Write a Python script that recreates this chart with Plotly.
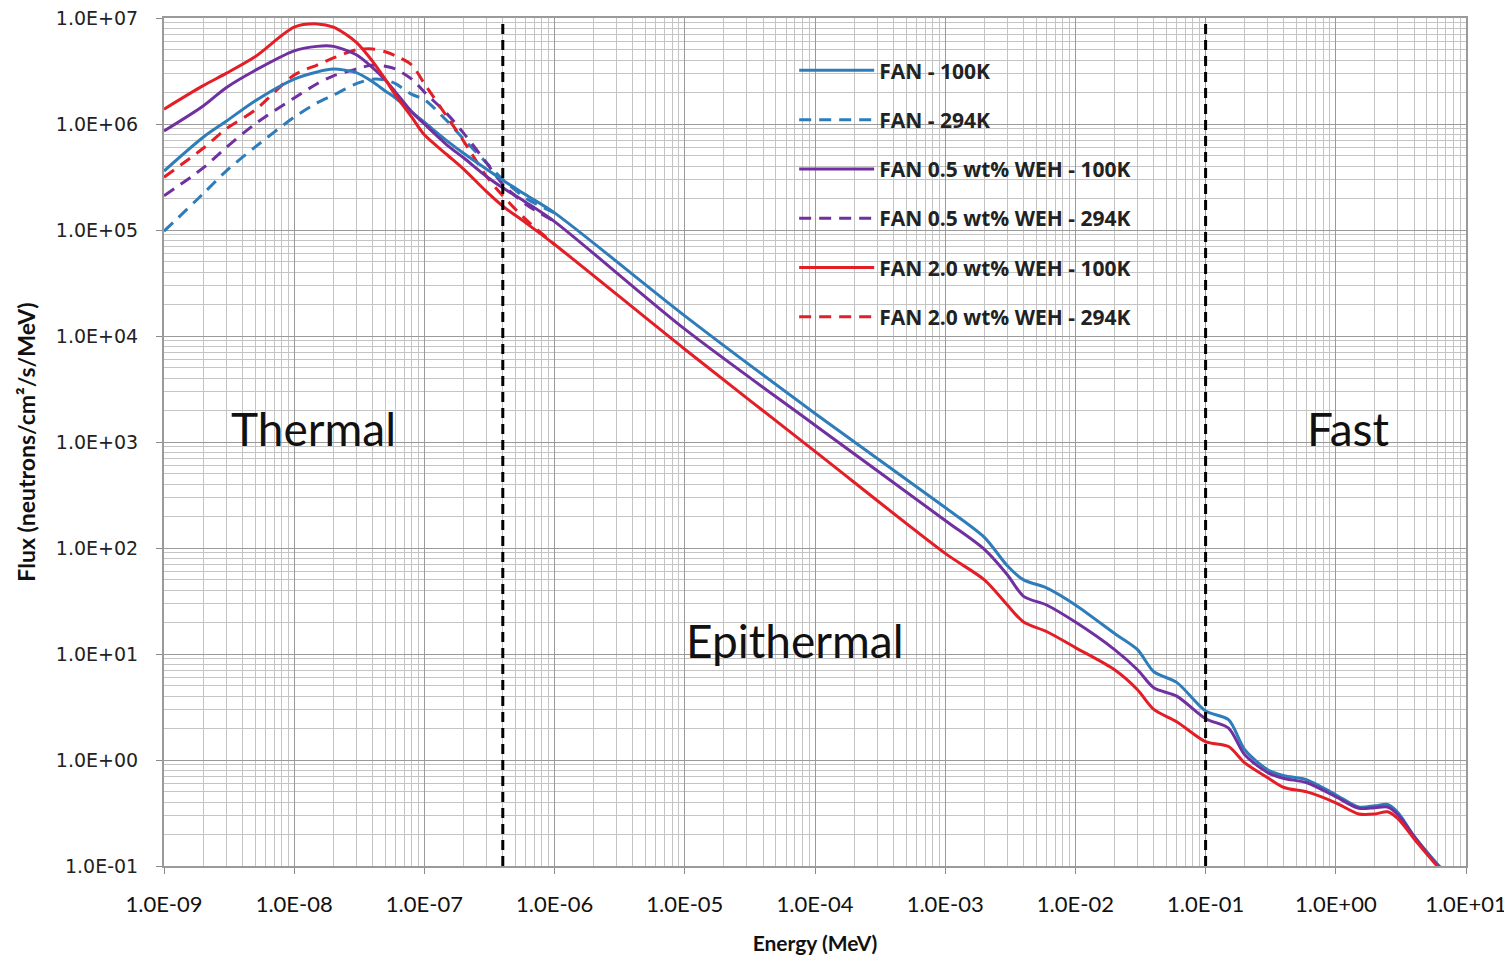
import math
import plotly.graph_objects as go

# ---------------- data ----------------
energy_thermal = [1e-9, 2e-9, 3e-9, 5e-9, 1e-8, 1.5e-8, 2e-8, 3e-8, 4e-8, 5e-8, 6e-8,
                  8e-8, 1e-7, 1.5e-7, 2e-7, 3e-7, 4e-7, 6e-7, 1e-6]
energy_high = [1e-5, 1e-4, 1e-3, 2e-3, 3e-3, 4e-3, 6e-3, 1e-2, 2e-2, 3e-2, 4e-2, 6e-2,
               1e-1, 1.5e-1, 2e-1, 3e-1, 4e-1, 6e-1, 1.0, 1.5, 2.0, 2.5, 3.0, 4.0, 5.0, 6.0, 6.5]

# solid (100K) thermal part
fan_100K_th = [3.6e5, 7.5e5, 1.06e6, 1.65e6, 2.65e6, 3.1e6, 3.3e6, 3.05e6, 2.5e6, 2.05e6, 1.76e6,
               1.3e6, 1.04e6, 6.9e5, 5.3e5, 3.75e5, 2.95e5, 2.15e5, 1.45e5]
fan05_100K_th = [8.6e5, 1.48e6, 2.2e6, 3.2e6, 4.9e6, 5.4e6, 5.4e6, 4.5e6, 3.4e6, 2.6e6, 2.0e6,
                 1.3e6, 1.0e6, 6.3e5, 4.8e5, 3.2e5, 2.5e5, 1.83e5, 1.2e5]
fan20_100K_th = [1.38e6, 2.3e6, 3.0e6, 4.3e6, 8.2e6, 8.8e6, 8.2e6, 5.9e6, 3.9e6, 2.65e6, 1.87e6,
                 1.16e6, 7.9e5, 5.1e5, 3.75e5, 2.3e5, 1.68e5, 1.17e5, 7.3e4]

# solid (100K) epithermal / fast part
fan_100K_hi = [1.55e4, 1.86e3, 241, 126, 68, 50, 42, 29, 15.6, 11, 6.8, 5.4,
               2.9, 2.4, 1.25, 0.81, 0.71, 0.65, 0.47, 0.36, 0.37, 0.38, 0.32, 0.19, 0.136, 0.105, 0.095]
fan05_100K_hi = [1.16e4, 1.44e3, 182, 97, 56, 35, 29, 20, 11, 7.1, 4.8, 4.0,
                 2.45, 2.0, 1.12, 0.76, 0.67, 0.61, 0.45, 0.35, 0.355, 0.36, 0.305, 0.19, 0.133, 0.102, 0.094]
fan20_100K_hi = [7.5e3, 815, 89, 50, 29, 20, 16.3, 11.5, 7.1, 4.6, 3.0, 2.3,
                 1.49, 1.34, 0.94, 0.68, 0.55, 0.50, 0.395, 0.31, 0.31, 0.325, 0.28, 0.18, 0.13, 0.1, 0.092]

# dashed (294K) thermal part
fan_294K_th = [9.75e4, 2.2e5, 3.6e5, 6.05e5, 1.16e6, 1.58e6, 1.87e6, 2.4e6, 2.65e6, 2.6e6, 2.4e6,
               1.9e6, 1.7e6, 1.06e6, 7.2e5, 4.3e5, 3.0e5, 2.0e5, 1.45e5]
fan05_294K_th = [2.1e5, 3.85e5, 6.0e5, 1.0e6, 1.76e6, 2.4e6, 2.85e6, 3.3e6, 3.6e6, 3.5e6, 3.3e6,
                 2.65e6, 2.0e6, 1.24e6, 8.2e5, 4.3e5, 2.7e5, 1.75e5, 1.2e5]
fan20_294K_th = [3.15e5, 5.9e5, 9.0e5, 1.35e6, 2.9e6, 3.6e6, 4.2e6, 5.0e6, 5.1e6, 4.8e6, 4.4e6,
                 3.6e6, 2.4e6, 1.16e6, 6.9e5, 3.2e5, 2.1e5, 1.26e5, 7.3e4]

series_names = ["FAN - 100K", "FAN - 294K", "FAN 0.5 wt% WEH - 100K",
                "FAN 0.5 wt% WEH - 294K", "FAN 2.0 wt% WEH - 100K", "FAN 2.0 wt% WEH - 294K"]

region_bounds = [4e-7, 1e-1]          # energy boundaries (MeV)
region_labels = ["Thermal", "Epithermal", "Fast"]
region_label_pos = [(1.4e-8, 1.35e3), (7.0e-5, 1.35e1), (1.25, 1.35e3)]

x_ticks = [10.0 ** k for k in range(-9, 2)]
x_ticktext = ["1.0E-09", "1.0E-08", "1.0E-07", "1.0E-06", "1.0E-05", "1.0E-04",
              "1.0E-03", "1.0E-02", "1.0E-01", "1.0E+00", "1.0E+01"]
y_ticks = [10.0 ** k for k in range(-1, 8)]
y_ticktext = ["1.0E-01", "1.0E+00", "1.0E+01", "1.0E+02", "1.0E+03",
              "1.0E+04", "1.0E+05", "1.0E+06", "1.0E+07"]

# ---------------- figure ----------------
BLUE = "#2E7DBA"
PURPLE = "#7030A0"
RED = "#E41E26"

fig = go.Figure()

energy_full = energy_thermal + energy_high

dashed = [
    (series_names[1], fan_294K_th, BLUE, 2),
    (series_names[3], fan05_294K_th, PURPLE, 4),
    (series_names[5], fan20_294K_th, RED, 6),
]
solid = [
    (series_names[0], fan_100K_th + fan_100K_hi, BLUE, 1),
    (series_names[2], fan05_100K_th + fan05_100K_hi, PURPLE, 3),
    (series_names[4], fan20_100K_th + fan20_100K_hi, RED, 5),
]

for name, vals, col, rank in dashed:
    fig.add_trace(go.Scatter(
        x=energy_thermal, y=vals, name="<b>" + name + "</b>", mode="lines",
        line=dict(color=col, width=3, dash="12px,8px", shape="spline", smoothing=0.8),
        legendrank=rank, legendgroup=name))

for name, vals, col, rank in solid:
    fig.add_trace(go.Scatter(
        x=energy_full, y=vals, name="<b>" + name + "</b>", mode="lines",
        line=dict(color=col, width=3, shape="spline", smoothing=0.8),
        legendrank=rank, legendgroup=name))

for b in region_bounds:
    fig.add_trace(go.Scatter(
        x=[b, b], y=[y_ticks[0], y_ticks[-1]], mode="lines", showlegend=False,
        line=dict(color="black", width=3, dash="10px,6px"), hoverinfo="skip"))

for txt, (xe, yf) in zip(region_labels, region_label_pos):
    fig.add_annotation(x=math.log10(xe), y=math.log10(yf),
                       xref="x", yref="y", text=txt, showarrow=False,
                       font=dict(family="Lato, sans-serif", size=46, color="#111111"))

minor_x = [m * 10.0 ** k for k in range(-9, 1) for m in range(2, 10)]
minor_y = [m * 10.0 ** k for k in range(-1, 7) for m in range(2, 10)]

fig.update_xaxes(
    type="log", range=[-9, 1], tickmode="array", tickvals=x_ticks, ticktext=x_ticktext,
    automargin=False, ticklabeloverflow="allow",
    showgrid=True, gridcolor="#9a9a9a", gridwidth=1,
    minor=dict(tickmode="array", tickvals=minor_x, showgrid=True, gridcolor="#c4c4c4",
               gridwidth=1, ticks=""),
    showline=True, linecolor="#9a9a9a", linewidth=2, mirror=True,
    ticks="outside", ticklen=6, tickcolor="#8a8a8a", ticklabelstandoff=12,
    tickfont=dict(family="Lato, sans-serif", size=22, color="#111111"),
    title=dict(text="<b>Energy (MeV)</b>", standoff=20,
               font=dict(family="Lato, sans-serif", size=21, color="#111111")),
    zeroline=False)

fig.update_yaxes(
    type="log", range=[-1, 7], tickmode="array", tickvals=y_ticks, ticktext=y_ticktext,
    automargin=False, ticklabeloverflow="allow",
    showgrid=True, gridcolor="#9a9a9a", gridwidth=1,
    minor=dict(tickmode="array", tickvals=minor_y, showgrid=True, gridcolor="#c4c4c4",
               gridwidth=1, ticks=""),
    showline=True, linecolor="#9a9a9a", linewidth=2, mirror=True,
    ticks="outside", ticklen=6, tickcolor="#8a8a8a", ticklabelstandoff=14,
    tickfont=dict(family="DejaVu Sans, sans-serif", size=19, color="#222222"),
    title=dict(text="<b>Flux (neutrons/cm²/s/MeV)</b>", standoff=14,
               font=dict(family="Lato, sans-serif", size=23, color="#111111")),
    zeroline=False)

fig.update_layout(
    width=1504, height=950,
    margin=dict(l=156, r=46, t=10, b=92, autoexpand=False),
    plot_bgcolor="white", paper_bgcolor="white",
    showlegend=True,
    legend=dict(x=0.484, y=0.962, xanchor="left", yanchor="top",
                bgcolor="rgba(0,0,0,0)", borderwidth=0,
                itemwidth=75, tracegroupgap=19, traceorder="grouped",
                font=dict(family="Open Sans, sans-serif", size=21, color="#222222")),
)

fig.write_html("out.html")
